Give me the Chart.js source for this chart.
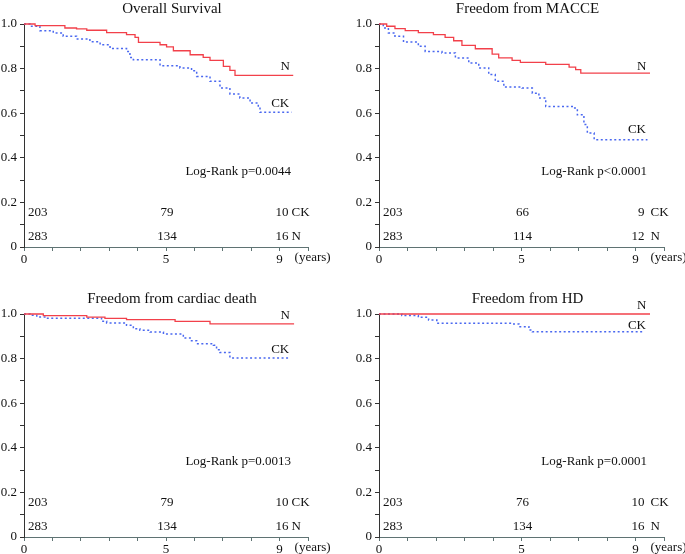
<!DOCTYPE html>
<html>
  <head>
    <script src="https://cdn.jsdelivr.net/npm/chart.js@4/dist/chart.umd.min.js"></script>
    <style>
      body { margin: 0; background: #fff; }
      #wrap { position: relative; width: 685px; height: 554px; }
      canvas { position: absolute; }
    </style>
  </head>

  <body>
    <div id="wrap">
      <canvas id="c1" width="342" height="280" style="left: 0; top: 0;"></canvas>
      <canvas id="c2" width="343" height="280" style="left: 342px; top: 0;"></canvas>
      <canvas id="c3" width="342" height="264" style="left: 0; top: 290px;"></canvas>
      <canvas id="c4" width="343" height="264" style="left: 342px; top: 290px;"></canvas>
    </div>
    <script>
      // survival curves: [years, proportion]
      const osN = [[0, 1], [0.39, 0.993], [1.44, 0.982], [1.85, 0.978], [2.21, 0.972], [2.91, 0.961], [3.61, 0.952], [3.91, 0.94], [4.03, 0.918], [4.79, 0.907], [5.02, 0.897], [5.26, 0.88], [5.85, 0.862], [6.31, 0.85], [6.55, 0.837], [7.02, 0.81], [7.25, 0.792], [7.43, 0.77], [9.48, 0.77]];
      const osCK = [[0, 1], [0.21, 0.99], [0.56, 0.97], [1.03, 0.96], [1.38, 0.945], [1.85, 0.933], [2.32, 0.92], [2.68, 0.907], [3.03, 0.89], [3.61, 0.877], [3.73, 0.85], [3.85, 0.84], [4.79, 0.813], [5.49, 0.803], [5.9, 0.79], [6.08, 0.765], [6.55, 0.743], [6.9, 0.713], [7.25, 0.686], [7.6, 0.668], [7.96, 0.646], [8.25, 0.626], [8.31, 0.604], [9.42, 0.604]];
      const maN = [[0, 1], [0.27, 0.99], [0.56, 0.979], [0.92, 0.97], [1.38, 0.961], [1.91, 0.952], [2.32, 0.94], [2.62, 0.925], [2.91, 0.904], [3.38, 0.889], [3.97, 0.865], [4.2, 0.848], [4.67, 0.837], [4.96, 0.828], [5.85, 0.819], [6.67, 0.807], [6.9, 0.795], [7.08, 0.78], [9.51, 0.78]];
      const maCK = [[0, 1], [0.15, 0.982], [0.33, 0.96], [0.56, 0.945], [0.86, 0.919], [1.38, 0.9], [1.62, 0.877], [2.21, 0.87], [2.68, 0.848], [3.15, 0.825], [3.5, 0.803], [3.85, 0.773], [4.08, 0.743], [4.38, 0.717], [5.02, 0.713], [5.38, 0.69], [5.61, 0.668], [5.85, 0.63], [6.78, 0.623], [6.96, 0.593], [7.19, 0.549], [7.31, 0.511], [7.55, 0.481], [9.42, 0.481]];
      const cdN = [[0, 1], [0.68, 0.993], [2.21, 0.986], [2.85, 0.98], [3.61, 0.975], [5.32, 0.967], [6.55, 0.956], [9.51, 0.956]];
      const cdCK = [[0, 1], [0.21, 0.994], [0.45, 0.987], [0.8, 0.981], [2.73, 0.967], [2.91, 0.96], [3.61, 0.949], [3.85, 0.934], [4.08, 0.927], [4.44, 0.919], [4.91, 0.91], [5.61, 0.892], [5.85, 0.88], [6.08, 0.867], [6.67, 0.86], [6.78, 0.84], [6.9, 0.827], [7.25, 0.803], [9.31, 0.803]];
      const hdN = [[0, 1], [9.51, 1]];
      const hdCK = [[0, 1], [0.8, 0.993], [1.38, 0.985], [1.74, 0.973], [2.03, 0.958], [4.67, 0.955], [4.91, 0.943], [5.26, 0.928], [5.38, 0.92], [9.31, 0.92]];

      // number at risk
      const riskTimes = [0, 5, 9];
      const riskCK = [[203, 79, 10], [203, 66, 9], [203, 79, 10], [203, 76, 10]];
      const riskN = [[283, 134, 16], [283, 114, 12], [283, 134, 16], [283, 134, 16]];

      const titles = ['Overall Survival', 'Freedom from MACCE', 'Freedom from cardiac death', 'Freedom from HD'];
      const pValues = ['Log-Rank p=0.0044', 'Log-Rank p<0.0001', 'Log-Rank p=0.0013', 'Log-Rank p=0.0001'];
      const xLabels = [0, 5, 9];

      const RED = '#f2404a';
      const BLUE = '#4a68f0';
      const FONT = '"Liberation Serif", "Times New Roman", serif';

      const panels = [
        { id: 'c1', n: osN, ck: osCK, left: 24, right: 308, bottom: 247, nLab: [9.2, 0.81], ckLab: [9.02, 0.645] },
        { id: 'c2', n: maN, ck: maCK, left: 37, right: 322, bottom: 247, nLab: [9.22, 0.81], ckLab: [9.05, 0.525] },
        { id: 'c3', n: cdN, ck: cdCK, left: 24, right: 308, bottom: 247, nLab: [9.2, 0.995], ckLab: [9.02, 0.84] },
        { id: 'c4', n: hdN, ck: hdCK, left: 37, right: 322, bottom: 247, nLab: [9.22, 1.04], ckLab: [9.05, 0.95] },
      ];

      const textPlugin = {
        id: 'kmText',
        afterDraw(chart, args, opts) {
          const { ctx, chartArea: a, scales } = chart;
          const x = scales.x, y = scales.y;
          const i = opts.index;
          const p = panels[i];
          ctx.save();
          ctx.fillStyle = '#111';
          ctx.textBaseline = 'middle';
          ctx.font = '15px ' + FONT;
          ctx.textAlign = 'center';
          ctx.fillText(titles[i], (a.left + a.right) / 2 + 6, 9);

          ctx.font = '13px ' + FONT;
          ctx.textAlign = 'right';
          ctx.fillText(pValues[i], x.getPixelForValue(9.4), y.getPixelForValue(0.34));

          ctx.textAlign = 'center';
          ctx.fillText('N', x.getPixelForValue(p.nLab[0]), y.getPixelForValue(p.nLab[1]));
          ctx.fillText('CK', x.getPixelForValue(p.ckLab[0]), y.getPixelForValue(p.ckLab[1]));

          const rows = [[riskCK[i], 'CK', a.bottom - 34], [riskN[i], 'N', a.bottom - 10]];
          rows.forEach(([vals, name, ry]) => {
            vals.forEach((v, k) => {
              const px = x.getPixelForValue(riskTimes[k]);
              if (k === 0) {
                ctx.textAlign = 'left';
                ctx.fillText(String(v), px + 4, ry);
              } else if (k === 1) {
                ctx.textAlign = 'center';
                ctx.fillText(String(v), px + 1, ry);
              } else {
                ctx.textAlign = 'right';
                ctx.fillText(String(v), px + 9, ry);
                ctx.textAlign = 'left';
                ctx.fillText(name, px + (i % 2 ? 15 : 12), ry);
              }
            });
          });

          ctx.textAlign = 'left';
          ctx.fillText('(years)', x.getPixelForValue(9) + 15, a.bottom + 11);
          ctx.restore();
        },
      };

      panels.forEach((p, i) => {
        const canvas = document.getElementById(p.id);
        const W = canvas.width, H = canvas.height;
        new Chart(canvas.getContext('2d'), {
          type: 'line',
          data: {
            datasets: [
              {
                label: 'N',
                data: p.n.map((d) => ({ x: d[0], y: d[1] })),
                stepped: 'before',
                borderColor: RED,
                borderWidth: 1.3,
                pointRadius: 0,
                fill: false,
                clip: false,
              },
              {
                label: 'CK',
                data: p.ck.map((d) => ({ x: d[0], y: d[1] })),
                stepped: 'before',
                borderColor: BLUE,
                borderWidth: 1.5,
                borderDash: [2, 2.5],
                pointRadius: 0,
                fill: false,
                clip: false,
              },
            ],
          },
          options: {
            responsive: false,
            animation: false,
            layout: {
              padding: { top: 24, right: W - p.right, left: 0, bottom: 0 },
            },
            scales: {
              x: {
                type: 'linear',
                min: 0,
                max: 10,
                afterFit: (s) => { s.height = H - p.bottom; },
                border: { color: '#5f7373', width: 1 },
                grid: { drawOnChartArea: false, drawTicks: true, tickLength: 4, color: '#5f7373' },
                ticks: {
                  stepSize: 1,
                  autoSkip: false,
                  maxRotation: 0,
                  padding: 1,
                  color: '#111',
                  font: { family: FONT, size: 13 },
                  callback: (v) => (xLabels.includes(v) ? String(v) : ''),
                },
              },
              y: {
                min: 0,
                max: 1,
                afterFit: (s) => { s.width = p.left; },
                border: { color: '#333', width: 1 },
                grid: { drawOnChartArea: false, drawTicks: true, tickLength: 4, color: '#333' },
                ticks: {
                  stepSize: 0.1,
                  autoSkip: false,
                  padding: 3,
                  color: '#111',
                  font: { family: FONT, size: 13 },
                  callback: (v) => {
                    const r = Math.round(v * 10);
                    if (r % 2) return '';
                    return r === 0 ? '0' : (r / 10).toFixed(1);
                  },
                },
              },
            },
            plugins: {
              legend: { display: false },
              tooltip: { enabled: false },
              kmText: { index: i },
            },
          },
          plugins: [textPlugin],
        });
      });
    </script>
  </body>
</html>
